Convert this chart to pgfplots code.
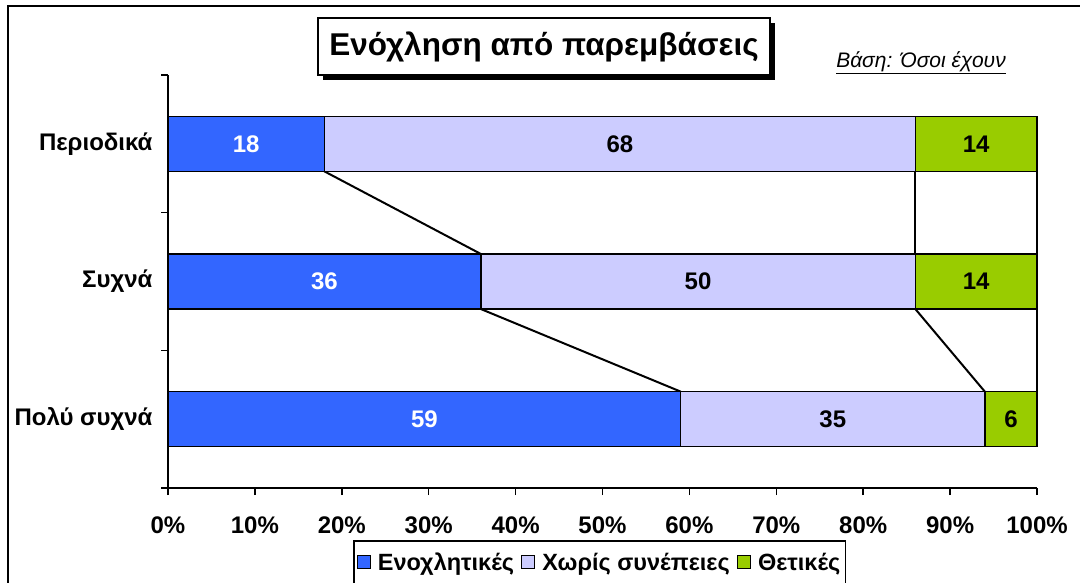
\documentclass[border=0pt]{standalone}
\usepackage{fontspec}
\setmainfont{Liberation Sans}
\usepackage{pgfplots}
\pgfplotsset{compat=1.18}
\definecolor{cblue}{HTML}{3366FF}
\definecolor{clav}{HTML}{CCCCFF}
\definecolor{cgreen}{HTML}{99CC00}
\newcommand{\lblfont}{\fontsize{24}{28}\selectfont\bfseries}
\newcommand{\legfont}{\fontsize{23.5}{27}\selectfont\bfseries}
\begin{document}
\begin{tikzpicture}[x=1pt,y=1pt]
\useasboundingbox (0,0) rectangle (1080,-583);
\draw[line width=2pt] (8,-600) -- (8,-6) -- (1100,-6);
% title
\fill[black] (323,-23) rectangle (775,-80);
\node[draw=black, line width=1.2pt, fill=white, minimum width=452pt, minimum height=57pt, inner sep=0pt]
  at (544,-46.5) {\fontsize{31.5}{36}\selectfont\bfseries Ενόχληση από παρεμβάσεις};
\node at (921,-63) {\fontsize{21}{24}\selectfont\itshape\underline{Βάση: Όσοι έχουν}};
\begin{axis}[
  at={(168pt,-488pt)}, anchor=south west,
  scale only axis, width=869pt, height=413pt,
  xbar stacked, bar width=55pt,
  xmin=0, xmax=100, ymin=-0.5, ymax=2.5,
  axis x line*=bottom, axis y line*=left,
  axis line style={line width=1.5pt},
  xtick={0,10,...,100},
  xticklabels={0\%,10\%,20\%,30\%,40\%,50\%,60\%,70\%,80\%,90\%,100\%},
  ytick={-0.5,0.5,1.5,2.5},
  yticklabels={},
  extra y ticks={0,1,2},
  extra y tick labels={Πολύ συχνά,Συχνά,Περιοδικά},
  extra y tick style={major tick length=0pt, tick style={draw=none}},
  tick align=outside,
  major tick length=7pt,
  tick style={black, line width=1.5pt},
  tick label style={font=\lblfont},
  xticklabel style={yshift=-18pt},
  yticklabel style={xshift=-12pt},
  clip=false,
  legend columns=3,
  legend style={at={(rel axis cs:0.2129,-0.1259)}, anchor=north west,
    draw=black, line width=1.5pt, font=\legfont,
    inner xsep=3pt, inner ysep=10pt, column sep=5pt},
  legend image code/.code={\draw[#1, draw=black, line width=1.2pt] (0pt,-6.5pt) rectangle (13pt,6.5pt);},
]
% bars
\addplot[fill=cblue, draw=black, line width=1.5pt] coordinates {(59,0) (36,1) (18,2)};
\addplot[fill=clav, draw=black, line width=1.5pt] coordinates {(35,0) (50,1) (68,2)};
\addplot[fill=cgreen, draw=black, line width=1.5pt] coordinates {(6,0) (14,1) (14,2)};
\legend{Ενοχλητικές,Χωρίς συνέπειες,Θετικές}
% series lines
\draw[black, line width=2pt] (axis cs:18,1.8) -- (axis cs:36,1.2);
\draw[black, line width=2pt] (axis cs:86,1.8) -- (axis cs:86,1.2);
\draw[black, line width=2pt] (axis cs:100,1.8) -- (axis cs:100,1.2);
\draw[black, line width=2pt] (axis cs:36,0.8) -- (axis cs:59,0.2);
\draw[black, line width=2pt] (axis cs:86,0.8) -- (axis cs:94,0.2);
\draw[black, line width=2pt] (axis cs:100,0.8) -- (axis cs:100,0.2);
% label positions
\coordinate (a2) at (axis cs:9,2);
\coordinate (b2) at (axis cs:52,2);
\coordinate (c2) at (axis cs:93,2);
\coordinate (a1) at (axis cs:18,1);
\coordinate (b1) at (axis cs:61,1);
\coordinate (c1) at (axis cs:93,1);
\coordinate (a0) at (axis cs:29.5,0);
\coordinate (b0) at (axis cs:76.5,0);
\coordinate (c0) at (axis cs:97,0);
\end{axis}
\node[white, font=\lblfont] at (a2) {18};
\node[font=\lblfont] at (b2) {68};
\node[font=\lblfont] at (c2) {14};
\node[white, font=\lblfont] at (a1) {36};
\node[font=\lblfont] at (b1) {50};
\node[font=\lblfont] at (c1) {14};
\node[white, font=\lblfont] at (a0) {59};
\node[font=\lblfont] at (b0) {35};
\node[font=\lblfont] at (c0) {6};
\end{tikzpicture}
\end{document}
